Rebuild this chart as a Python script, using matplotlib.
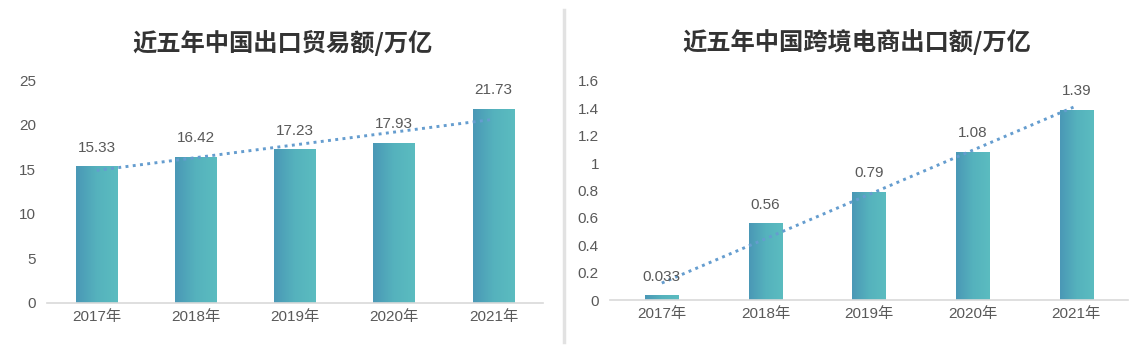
import numpy as np
import matplotlib
matplotlib.use("Agg")
import matplotlib.pyplot as plt
from matplotlib.lines import Line2D

plt.rcParams['font.family'] = ['Liberation Sans', 'Noto Sans CJK SC', 'DejaVu Sans']

# 数据
years = ['2017年', '2018年', '2019年', '2020年', '2021年']
export_total = [15.33, 16.42, 17.23, 17.93, 21.73]
ecom_export = [0.033, 0.56, 0.79, 1.08, 1.39]
ecom_labels = ['0.033', '0.56', '0.79', '1.08', '1.39']
total_labels = ['15.33', '16.42', '17.23', '17.93', '21.73']

title_left = '近五年中国出口贸易额/万亿'
title_right = '近五年中国跨境电商出口额/万亿'

grad = np.linspace(0, 1, 64).reshape(1, -1)
cmap = matplotlib.colors.LinearSegmentedColormap.from_list(
    'bar', ['#4a98b6', '#55b2bd', '#5bbcc0'])
text_col = '#595959'


def draw_panel(ax, vals, labels, width, ylim, yticks, label_off):
    x = np.arange(len(vals))
    bars = ax.bar(x, vals, width=width, color='#55afbd', zorder=2)
    # gradient fill on each bar
    for b in bars:
        x0, y0 = b.get_x(), b.get_y()
        im = ax.imshow(grad, cmap=cmap, aspect='auto', zorder=2.1,
                       extent=(x0, x0 + b.get_width(), y0, y0 + b.get_height()))
        im.set_clip_path(b)
    # linear trendline
    k, c = np.polyfit(x, vals, 1)
    ax.plot(x, k * x + c, linestyle=(0, (1, 1.5)), color='#659dcf', lw=2.1, zorder=3)
    for xi, v, lab in zip(x, vals, labels):
        ax.annotate(lab, (xi, v), xytext=(0, label_off), textcoords='offset points',
                    ha='center', va='center', fontsize=11, color=text_col, zorder=4)
    ax.set_xlim(-0.5, 4.5)
    ax.set_ylim(*ylim)
    ax.set_yticks(yticks)
    ax.yaxis.set_major_formatter(matplotlib.ticker.FormatStrFormatter('%g'))
    ax.set_xticks(x)
    ax.set_xticklabels(years)
    ax.tick_params(axis='both', length=0, labelsize=11, labelcolor=text_col)
    ax.tick_params(axis='y', pad=8)
    ax.tick_params(axis='x', pad=5)
    for s in ['left', 'right', 'top']:
        ax.spines[s].set_visible(False)
    ax.spines['bottom'].set_color('#d9d9d9')
    ax.spines['bottom'].set_linewidth(1.2)


fig = plt.figure(figsize=(11.34, 3.51), dpi=100)
ax1 = fig.add_axes([47 / 1134, 48 / 351, 496 / 1134, 223 / 351])
ax2 = fig.add_axes([610 / 1134, 51 / 351, 518 / 1134, 219 / 351])

draw_panel(ax1, export_total, total_labels, 0.42, (0, 25), [0, 5, 10, 15, 20, 25], 13.5)
draw_panel(ax2, ecom_export, ecom_labels, 0.32, (0, 1.6),
           [0, 0.2, 0.4, 0.6, 0.8, 1.0, 1.2, 1.4, 1.6], 13.5)

fig.text(283 / 1134, 1 - 43 / 351, title_left, ha='center', va='center',
         fontsize=17.5, fontweight='bold', color='#333333', family=['Noto Sans CJK SC'])
fig.text(857 / 1134, 1 - 42 / 351, title_right, ha='center', va='center',
         fontsize=17.5, fontweight='bold', color='#333333', family=['Noto Sans CJK SC'])

# divider between panels
fig.add_artist(Line2D([564 / 1134, 564 / 1134], [1 - 10 / 351, 1 - 342 / 351],
                      transform=fig.transFigure, color='#e2e2e2', lw=2.5))

fig.savefig('out.png', dpi=100, facecolor='white')
